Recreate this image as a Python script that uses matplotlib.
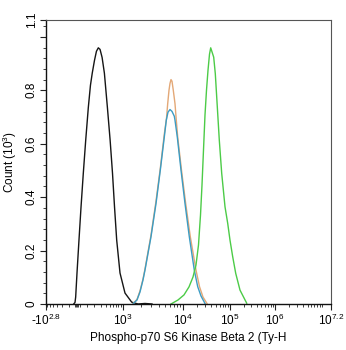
import numpy as np
import matplotlib
matplotlib.use("Agg")
import matplotlib.pyplot as plt

plt.rcParams['font.family'] = ['Liberation Sans', 'DejaVu Sans']
plt.rcParams['mathtext.fontset'] = 'custom'
plt.rcParams['mathtext.rm'] = 'Liberation Sans'
plt.rcParams['mathtext.it'] = 'Liberation Sans'

# fluorescence intensity (x) and count in thousands (y)
black_x = [-40, -24, -16, 0, 20, 41, 65, 91, 121, 147, 170, 201, 230, 260, 290, 328,
           375, 444, 516, 586, 653, 732, 870, 1093, 1414, 1801, 2353, 3075]
black_y = [0, 0.006, 0.026, 0.116, 0.239, 0.363, 0.490, 0.613, 0.736, 0.819, 0.864,
           0.912, 0.946, 0.959, 0.953, 0.923, 0.864, 0.736, 0.613, 0.490, 0.363,
           0.239, 0.116, 0.041, 0.007, 0, 0.002, 0]

orange_x = [1487, 1734, 1944, 2180, 2353, 2960, 3580, 4217, 4910, 5338, 5587, 5870,
            6099, 6335, 6580, 6913, 7375, 7750, 8174, 9445, 11410, 14300, 18900,
            22440, 26630, 32390]
orange_y = [0.002, 0.017, 0.049, 0.093, 0.131, 0.258, 0.385, 0.508, 0.636, 0.695,
            0.750, 0.800, 0.826, 0.840, 0.834, 0.800, 0.750, 0.688, 0.625, 0.501,
            0.376, 0.252, 0.127, 0.065, 0.026, 0.002]

blue_x = [1504, 1734, 1944, 2180, 2353, 2960, 3580, 4217, 4910, 5297, 5651, 6099,
          6580, 7182, 7375, 8050, 9268, 11030, 13610, 17390, 20550, 24150, 29370]
blue_y = [0.002, 0.015, 0.045, 0.090, 0.127, 0.252, 0.376, 0.501, 0.625, 0.688,
          0.718, 0.728, 0.721, 0.703, 0.688, 0.625, 0.501, 0.376, 0.252, 0.127,
          0.065, 0.030, 0.002]

green_x = [6335, 8267, 10500, 13420, 16320, 18900, 21370, 23570, 25360, 27290,
           29370, 31610, 34040, 36630, 38850, 45000, 48680, 53690, 59220, 66610,
           78290, 89370, 100000, 114800, 133900, 166800, 235100]
green_y = [0, 0.015, 0.034, 0.064, 0.101, 0.146, 0.221, 0.333, 0.445, 0.576, 0.707,
           0.800, 0.875, 0.935, 0.959, 0.924, 0.862, 0.738, 0.613, 0.489, 0.364,
           0.302, 0.239, 0.177, 0.115, 0.052, 0.003]

# logicle-like axis: piecewise linear in asinh space
w = 200.0
knot_vals = np.array([-10 ** 2.8, 0, 1e3, 1e4, 1e5, 1e6, 10 ** 7.2])
knot_t = np.arcsinh(knot_vals / w)
knot_p = (np.array([46, 77, 122.7, 183, 230, 275, 331]) - 46) / 285.0


def _interp_ext(x, xp, fp):
    x = np.asarray(x, dtype=float)
    y = np.interp(x, xp, fp)
    lo = x < xp[0]
    hi = x > xp[-1]
    y = np.where(lo, fp[0] + (x - xp[0]) * (fp[1] - fp[0]) / (xp[1] - xp[0]), y)
    y = np.where(hi, fp[-1] + (x - xp[-1]) * (fp[-1] - fp[-2]) / (xp[-1] - xp[-2]), y)
    return y


def fwd(v):
    return _interp_ext(np.arcsinh(np.asarray(v, dtype=float) / w), knot_t, knot_p)


def inv(p):
    return w * np.sinh(_interp_ext(p, knot_p, knot_t))


fig = plt.figure(figsize=(3.46, 3.5), dpi=100)
ax = fig.add_axes([46 / 346, 1 - 304 / 350, 285 / 346, (304 - 19.5) / 350])
ax.set_xscale('function', functions=(fwd, inv))

lw = 1.0
ax.plot(black_x, black_y, color='#151515', lw=lw)
ax.plot(orange_x, orange_y, color='#e3a877', lw=lw)
ax.plot(blue_x, blue_y, color='#3b9cc4', lw=lw)
ax.plot(green_x, green_y, color='#4ccb47', lw=lw)

ax.set_xlim(-10 ** 2.8, 10 ** 7.2)
ax.set_ylim(0, 1.065)

xmaj = [-10 ** 2.8, 1e3, 1e4, 1e5, 1e6, 10 ** 7.2]
xlab = [r'-10$^{2.8}$', r'10$^{3}$', r'10$^{4}$', r'10$^{5}$', r'10$^{6}$', r'10$^{7.2}$']
ax.set_xticks(xmaj)
ax.set_xticklabels(xlab)
xmin = list(range(-600, 1000, 100)) + [-30, -15, 15, 30]
for d in range(3, 7):
    xmin += [k * 10 ** d for k in range(2, 10)]
xmin += [1e7]
ax.set_xticks(xmin, minor=True)

ax.set_yticks([0, 0.2, 0.4, 0.6, 0.8, 1.0, 1.065])
ax.set_yticklabels(['0', '0.2', '0.4', '0.6', '0.8', '', '1.1'], rotation=90, va='center')
ax.set_yticks(np.arange(0.04, 1.06, 0.04), minor=True)

ax.tick_params(axis='both', which='major', length=4, width=0.8, labelsize=8.5, color='#222222')
ax.tick_params(axis='both', which='minor', length=2.5, width=0.6, color='#222222')
ax.tick_params(axis='x', pad=2)
ax.tick_params(axis='y', pad=2)

for s in ['left', 'bottom']:
    ax.spines[s].set_linewidth(1.0)
    ax.spines[s].set_color('#111111')
for s in ['top', 'right']:
    ax.spines[s].set_linewidth(0.8)
    ax.spines[s].set_color('#555555')

ax.set_xlabel('Phospho-p70 S6 Kinase Beta 2 (Ty-H', fontsize=8.5, labelpad=3)
ax.set_ylabel(r'Count (10$^{3}$)', fontsize=8.5, labelpad=5)

fig.savefig('out.png', dpi=100)
